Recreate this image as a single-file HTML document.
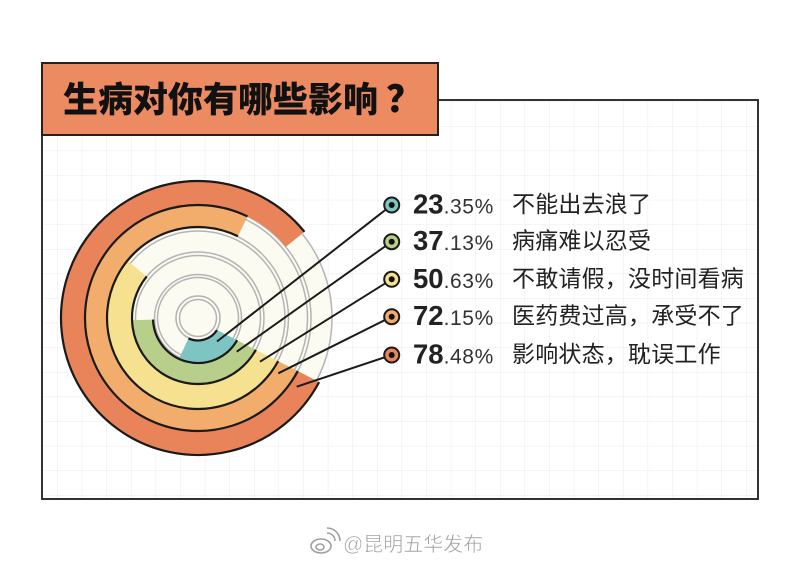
<!DOCTYPE html>
<html>
<head>
<meta charset="utf-8">
<style>
html,body{margin:0;padding:0;background:#fff;}
body{width:799px;height:564px;overflow:hidden;}
svg{display:block;}
.num{font-family:"Liberation Sans","Noto Sans CJK SC",sans-serif;font-weight:bold;font-size:27.5px;fill:#222;}
.dec{font-family:"Liberation Sans","Noto Sans CJK SC",sans-serif;font-size:21px;fill:#333;letter-spacing:0.6px;}
.lab{font-family:"Liberation Sans","Noto Sans CJK SC",sans-serif;font-size:23px;fill:#222;letter-spacing:0.2px;}
</style>
</head>
<body>
<svg width="799" height="564" viewBox="0 0 799 564" xmlns="http://www.w3.org/2000/svg">
  <defs>
    <pattern id="grid" x="8" y="3" width="24.6" height="24.6" patternUnits="userSpaceOnUse">
      <path d="M0 0 L0 24.6 M0 0 L24.6 0" stroke="#ebebeb" stroke-width="1" fill="none"/>
    </pattern>
  </defs>
  <rect width="799" height="564" fill="#fff"/>
  <!-- panel grid -->
  <rect x="43" y="101" width="714" height="397" fill="url(#grid)"/>
  <!-- panel border -->
  <path d="M42 135 L42 499 L758 499 L758 100 L438 100" fill="none" stroke="#333" stroke-width="2"/>
  <!-- title box -->
  <rect x="42" y="63" width="396" height="72" fill="#ec8a61" stroke="#222" stroke-width="2"/>
  <text x="63" y="112" font-family="'Noto Sans CJK SC','Liberation Sans',sans-serif" font-weight="900" font-size="35" fill="#111">生病对你有哪些影响<tspan dx="8" font-size="37">？</tspan></text>

  <!-- cream track disc -->
  <circle cx="198" cy="318" r="134" fill="#fbfbf1"/>
  <g fill="none" stroke="#b4b4b4" stroke-width="1.5">
    <circle cx="198" cy="318" r="18.5"/>
    <circle cx="198" cy="318" r="22"/>
    <circle cx="198" cy="318" r="40.5"/>
    <circle cx="198" cy="318" r="43.5"/>
    <circle cx="198" cy="318" r="62.5"/>
    <circle cx="198" cy="318" r="66"/>
    <circle cx="198" cy="318" r="87"/>
    <circle cx="198" cy="318" r="90.5"/>
    <circle cx="198" cy="318" r="109.5"/>
    <circle cx="198" cy="318" r="113"/>
    <circle cx="198" cy="318" r="134"/>
  </g>

  <!-- arcs -->
  <path d="M297.77,371.05 L319.08,382.10 A137,137 0 1 1 304.46,231.79 L285.81,246.89 A113,113 0 1 0 297.77,371.05 Z" fill="#e9845a"/>
  <path d="M278.13,361.14 L297.77,371.05 A113,113 0 1 1 247.54,216.44 L237.89,236.21 A91,91 0 1 0 278.13,361.14 Z" fill="#f2ad6c"/>
  <path d="M255.84,349.80 L278.13,361.14 A91,91 0 1 1 127.28,260.73 L146.71,276.47 A66,66 0 1 0 255.84,349.80 Z" fill="#f5e18f"/>
  <path d="M237.13,340.23 L255.84,349.80 A66,66 0 0 1 132.04,320.30 L153.03,319.57 A45,45 0 0 0 237.13,340.23 Z" fill="#b7cf8b"/>
  <path d="M217.0,330.06 L237.13,340.23 A45,45 0 0 1 178.98,358.78 L188.49,338.39 A22.5,22.5 0 0 0 217.0,330.06 Z" fill="#7dc4c3"/>

  <!-- black edges -->
  <g fill="none" stroke="#1a1a1a" stroke-width="2.2">
    <path d="M217.0,330.06 A22.5,22.5 0 0 1 188.49,338.39"/>
    <path d="M237.13,340.23 A45,45 0 0 1 153.03,319.57"/>
    <path d="M255.84,349.80 A66,66 0 1 1 146.71,276.47"/>
    <path d="M278.13,361.14 A91,91 0 1 1 237.89,236.21"/>
    <path d="M297.77,371.05 A113,113 0 1 1 247.54,216.44"/>
    <path d="M319.08,382.10 A137,137 0 1 1 304.46,231.79"/>
  </g>

  <!-- leader lines -->
  <g stroke="#1a1a1a" stroke-width="2" fill="none">
    <line x1="217" y1="341.5" x2="391.7" y2="205"/>
    <line x1="236.7" y1="351.7" x2="391.7" y2="241.7"/>
    <line x1="260" y1="361.7" x2="391.7" y2="279.3"/>
    <line x1="278.3" y1="373.3" x2="391.7" y2="316.7"/>
    <line x1="296.7" y1="386.7" x2="391.7" y2="355"/>
  </g>

  <!-- dots -->
  <g stroke="#1a1a1a" stroke-width="2">
    <circle cx="391.7" cy="205" r="7.5" fill="#7dc4c3"/>
    <circle cx="391.7" cy="241.7" r="7.5" fill="#b7cf8b"/>
    <circle cx="391.7" cy="279.3" r="7.5" fill="#f5e18f"/>
    <circle cx="391.7" cy="316.7" r="7.5" fill="#f2ad6c"/>
    <circle cx="391.7" cy="355" r="7.5" fill="#e9845a"/>
  </g>
  <g fill="#111">
    <circle cx="391.7" cy="205" r="3"/>
    <circle cx="391.7" cy="241.7" r="3"/>
    <circle cx="391.7" cy="279.3" r="3"/>
    <circle cx="391.7" cy="316.7" r="3"/>
    <circle cx="391.7" cy="355" r="3"/>
  </g>

  <!-- labels -->
  <text x="413" y="213.5"><tspan class="num">23</tspan><tspan class="dec">.35%</tspan></text>
  <text x="512" y="212" class="lab">不能出去浪了</text>
  <text x="413" y="250.2"><tspan class="num">37</tspan><tspan class="dec">.13%</tspan></text>
  <text x="512" y="248.7" class="lab">病痛难以忍受</text>
  <text x="413" y="287.8"><tspan class="num">50</tspan><tspan class="dec">.63%</tspan></text>
  <text x="512" y="286.3" class="lab">不敢请假，没时间看病</text>
  <text x="413" y="325.2"><tspan class="num">72</tspan><tspan class="dec">.15%</tspan></text>
  <text x="512" y="323.7" class="lab">医药费过高，承受不了</text>
  <text x="413" y="363.5"><tspan class="num">78</tspan><tspan class="dec">.48%</tspan></text>
  <text x="512" y="362" class="lab">影响状态，耽误工作</text>

  <!-- watermark -->
  <g fill="none" stroke="#a0a0a0" stroke-width="1.6">
    <ellipse cx="321" cy="546" rx="10" ry="7"/>
    <ellipse cx="320" cy="547" rx="4" ry="3"/>
    <path d="M327 533 A8 8 0 0 1 335 541"/>
    <path d="M327 528 A13 13 0 0 1 340 541"/>
  </g>
  <text x="343" y="551" font-family="'Liberation Sans','Noto Sans CJK SC',sans-serif" font-size="20" fill="#a0a0a0" stroke="#fff" stroke-width="0.5">@昆明五华发布</text>
</svg>
</body>
</html>
